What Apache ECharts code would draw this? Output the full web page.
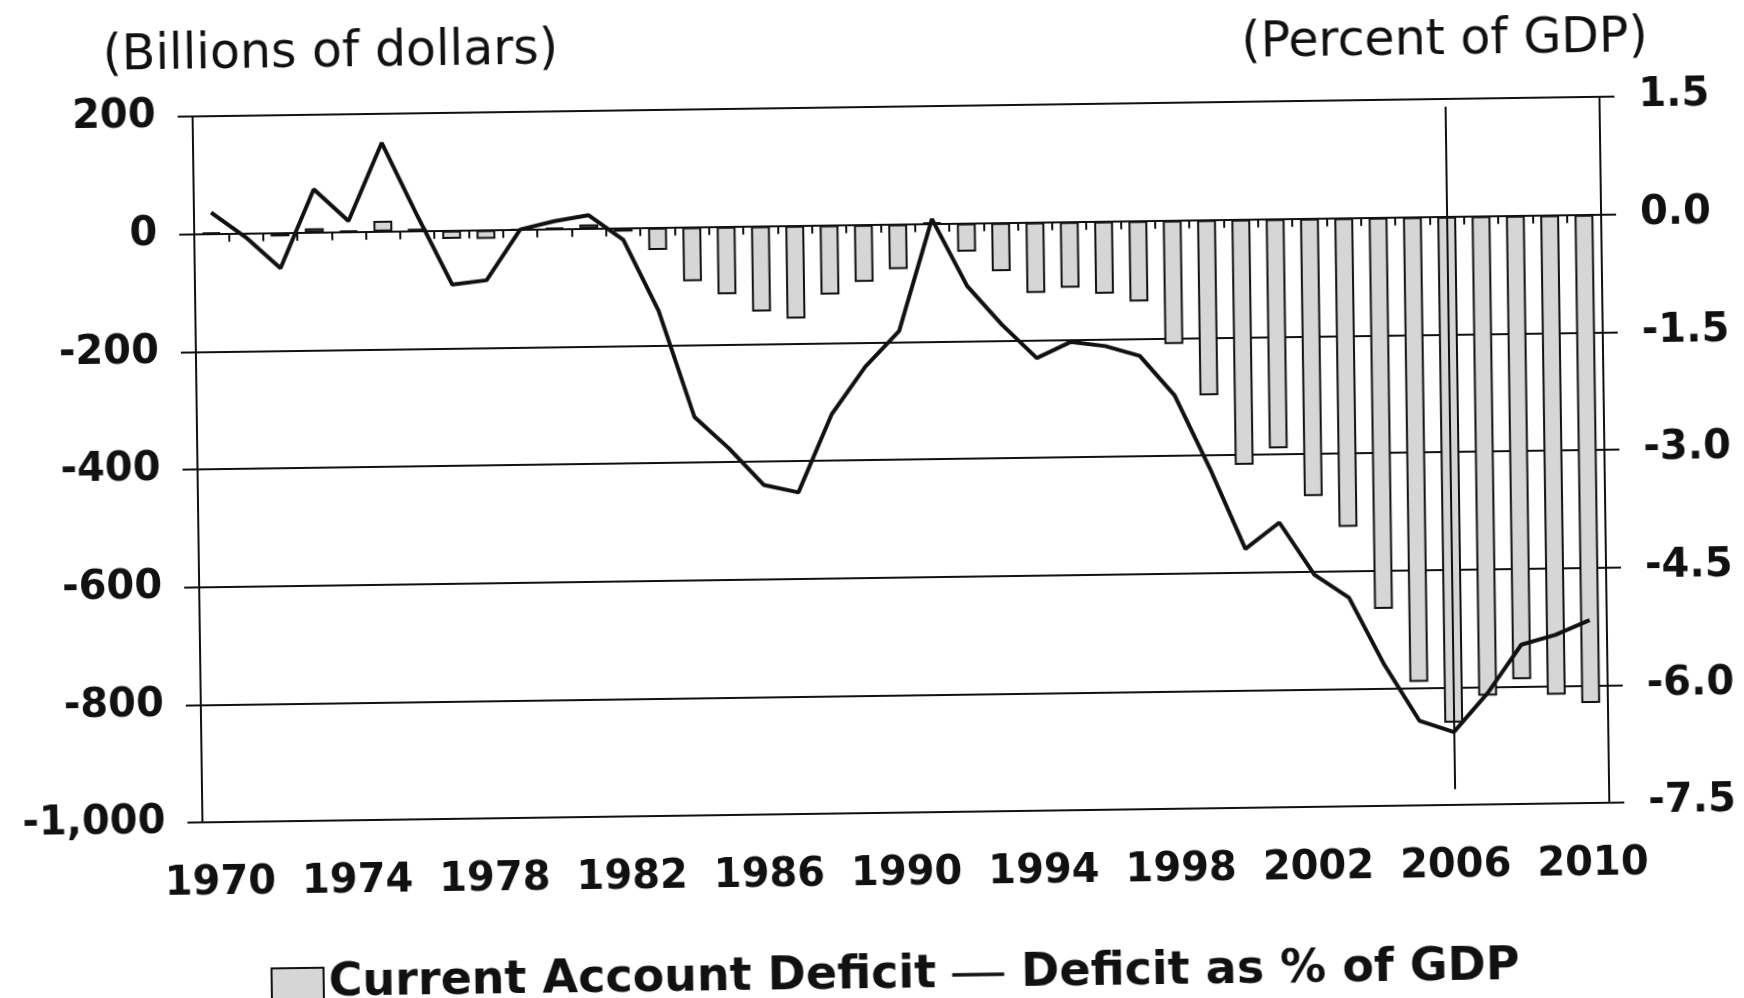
<!DOCTYPE html>
<html>
<head>
<meta charset="utf-8">
<title>Current Account Deficit</title>
<script src="https://cdn.jsdelivr.net/npm/echarts@6/dist/echarts.min.js"></script>
<style>
  html, body { margin: 0; padding: 0; background: #fff; }
  /* the source is a slightly tilted scan */
  #chart { width: 1744px; height: 998px; transform: rotate(-0.8deg); }
</style>
</head>
<body>
<div id="chart"></div>
<script>
const years = ['1970', '1971', '1972', '1973', '1974', '1975', '1976', '1977', '1978', '1979',
  '1980', '1981', '1982', '1983', '1984', '1985', '1986', '1987', '1988', '1989',
  '1990', '1991', '1992', '1993', '1994', '1995', '1996', '1997', '1998', '1999',
  '2000', '2001', '2002', '2003', '2004', '2005', '2006', '2007', '2008', '2009', '2010']

// billions of dollars
const deficit = [2, -1, -6, 7, 2, 18, 4, -14, -15, 0,
  2, 7, -6, -38, -92, -115, -145, -158, -118, -97,
  -76, 2, -48, -82, -120, -112, -123, -137, -210, -298,
  -417, -390, -472, -525, -665, -790, -860, -815, -788, -815, -830]

// percent of GDP
const deficitPct = [0.27, -0.05, -0.45, 0.55, 0.14, 1.13, 0.2, -0.69, -0.64, 0.0,
  0.1, 0.17, -0.15, -1.06, -2.42, -2.83, -3.3, -3.4, -2.41, -1.81,
  -1.36, 0.06, -0.8, -1.3, -1.73, -1.53, -1.59, -1.72, -2.23, -3.17,
  -4.2, -3.87, -4.54, -4.84, -5.7, -6.42, -6.57, -6.08, -5.47, -5.35, -5.17]

const dollarTicks = [-1000, -800, -600, -400, -200, 0, 200]
const pctTicks = [-7.5, -6.0, -4.5, -3.0, -1.5, 0.0, 1.5]

// vertical marker at 2006
const markerYear = '2006'
const markerRange = [1.4, -7.3]

const font = 'DejaVu Sans'
const chart = echarts.init(document.getElementById('chart'))

chart.setOption({
  backgroundColor: '#fff',
  animation: false,
  title: [
    {
      text: '(Billions of dollars)',
      left: 104, top: 17,
      textStyle: { fontFamily: font, fontSize: 49, fontWeight: 'normal', color: '#111' }
    },
    {
      text: '(Percent of GDP)',
      right: 85, top: 20,
      textStyle: { fontFamily: font, fontSize: 49, fontWeight: 'normal', color: '#111' }
    }
  ],
  legend: {
    left: 259, top: 948,
    itemWidth: 52, itemHeight: 32, itemGap: 16,
    textStyle: { fontFamily: font, fontSize: 46, fontWeight: 'bold', color: '#111' },
    data: [
      { name: 'Current Account Deficit', icon: 'rect' },
      {
        name: 'Deficit as % of GDP',
        icon: 'path://M0,0H52V3.5H0Z',
        textStyle: { padding: [0, 0, 0, 12] }
      }
    ]
  },
  grid: { left: 198, right: 139, top: 107, bottom: 185 },
  xAxis: [
    {
      type: 'category',
      data: years,
      position: 'bottom',
      axisLine: { show: false, onZero: false },
      axisTick: { show: false },
      axisLabel: {
        interval: 3, margin: 42,
        fontFamily: font, fontSize: 40, fontWeight: 'bold', color: '#111'
      }
    },
    {
      type: 'category',
      data: years,
      position: 'bottom',
      axisLine: { show: true, onZero: true, lineStyle: { color: '#111', width: 2 } },
      axisTick: { show: true, interval: 0, length: 8, lineStyle: { color: '#111', width: 2 } },
      axisLabel: { show: false }
    }
  ],
  yAxis: [
    {
      type: 'value',
      min: dollarTicks[0],
      max: dollarTicks[dollarTicks.length - 1],
      interval: dollarTicks[1] - dollarTicks[0],
      axisLine: { show: true, lineStyle: { color: '#111', width: 2 } },
      axisTick: { show: true, length: 15, lineStyle: { color: '#111', width: 2 } },
      splitLine: { show: true, lineStyle: { color: '#111', width: 2 } },
      axisLabel: {
        margin: 37,
        fontFamily: font, fontSize: 40, fontWeight: 'bold', color: '#111',
        formatter: v => v.toLocaleString('en-US')
      }
    },
    {
      type: 'value',
      position: 'right',
      min: pctTicks[0],
      max: pctTicks[pctTicks.length - 1],
      interval: pctTicks[1] - pctTicks[0],
      axisLine: { show: true, lineStyle: { color: '#111', width: 2 } },
      axisTick: { show: true, length: 15, lineStyle: { color: '#111', width: 2 } },
      splitLine: { show: false },
      axisLabel: {
        margin: 39,
        fontFamily: font, fontSize: 40, fontWeight: 'bold', color: '#111',
        formatter: v => v.toFixed(1)
      }
    }
  ],
  series: [
    {
      name: 'Current Account Deficit',
      type: 'bar',
      data: deficit,
      xAxisIndex: 0,
      yAxisIndex: 0,
      barWidth: '55%',
      itemStyle: { color: '#d6d6d6', borderColor: '#111', borderWidth: 2 }
    },
    {
      name: 'Deficit as % of GDP',
      type: 'line',
      data: deficitPct,
      xAxisIndex: 0,
      yAxisIndex: 1,
      symbol: 'none',
      lineStyle: { color: '#111', width: 4 },
      itemStyle: { color: '#111' },
      markLine: {
        silent: true,
        symbol: 'none',
        label: { show: false },
        lineStyle: { color: '#111', width: 2, type: 'solid' },
        data: [[
          { coord: [markerYear, markerRange[0]] },
          { coord: [markerYear, markerRange[1]] }
        ]]
      }
    }
  ]
})
</script>
</body>
</html>
